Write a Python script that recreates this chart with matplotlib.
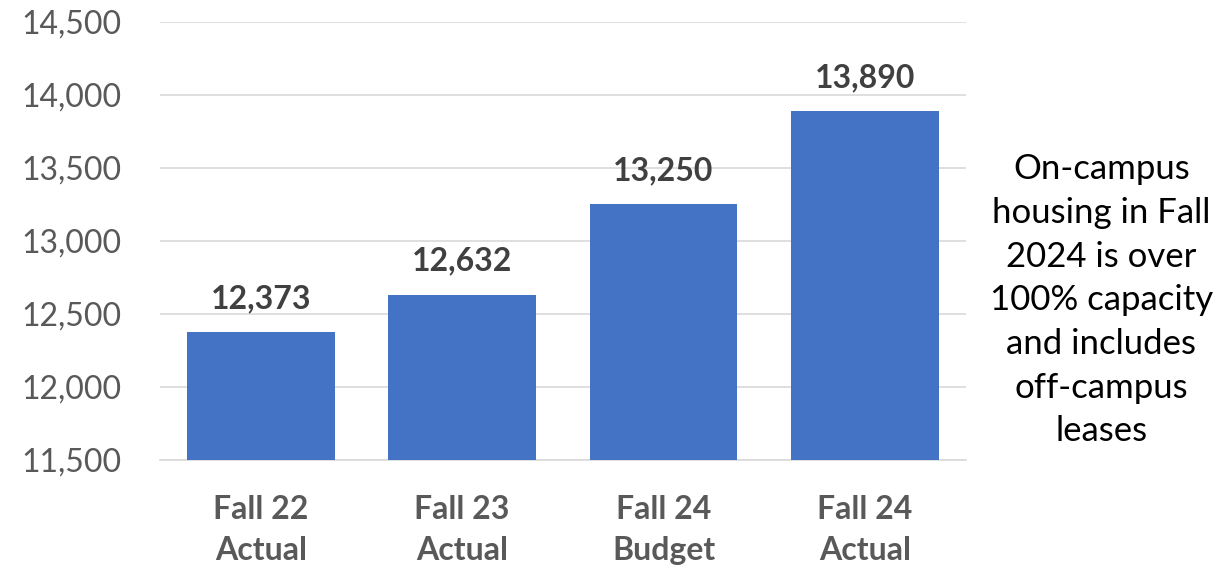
import numpy as np
import matplotlib
matplotlib.use('Agg')
import matplotlib.pyplot as plt

plt.rcParams['font.family'] = ['Lato', 'DejaVu Sans']

categories = ['Fall 22\nActual', 'Fall 23\nActual', 'Fall 24\nBudget', 'Fall 24\nActual']
values = [12373, 12632, 13250, 13890]
y_ticks = [11500, 12000, 12500, 13000, 13500, 14000, 14500]
note = 'On-campus\nhousing in Fall\n2024 is over\n100% capacity\nand includes\noff-campus\nleases'

fig = plt.figure(figsize=(12.17, 5.72), dpi=100)
ax = fig.add_axes([0.1315, 0.196, 0.662, 0.766])

x = np.arange(len(categories))
bars = ax.bar(x, values, width=0.733, color='#4472C4', zorder=3)

for b, v in zip(bars, values):
    ax.text(b.get_x() + b.get_width() / 2, v + 130, '{:,}'.format(v),
            ha='center', va='bottom', fontsize=23, fontweight='bold', color='#404040')

ax.set_xlim(-0.5, len(categories) - 0.5)
ax.set_ylim(11500, 14500)
ax.set_yticks(y_ticks)
ax.set_yticklabels(['{:,}'.format(t) for t in y_ticks])
ax.set_xticks(x)
ax.set_xticklabels(categories, fontsize=23, fontweight='bold', color='#595959', linespacing=1.5)
ax.tick_params(axis='y', labelsize=23, labelcolor='#595959', length=0, pad=28)
ax.tick_params(axis='x', length=0, pad=25)
ax.yaxis.grid(True, color='#D9D9D9', linewidth=1.2, zorder=0)
for s in ['top', 'right', 'left']:
    ax.spines[s].set_visible(False)
ax.spines['bottom'].set_color('#D9D9D9')
ax.spines['bottom'].set_linewidth(1.2)

fig.text(0.905, 0.475, note, ha='center', va='center', fontsize=25, color='black', linespacing=1.45)

fig.savefig('out.png', dpi=100)
plt.close(fig)
